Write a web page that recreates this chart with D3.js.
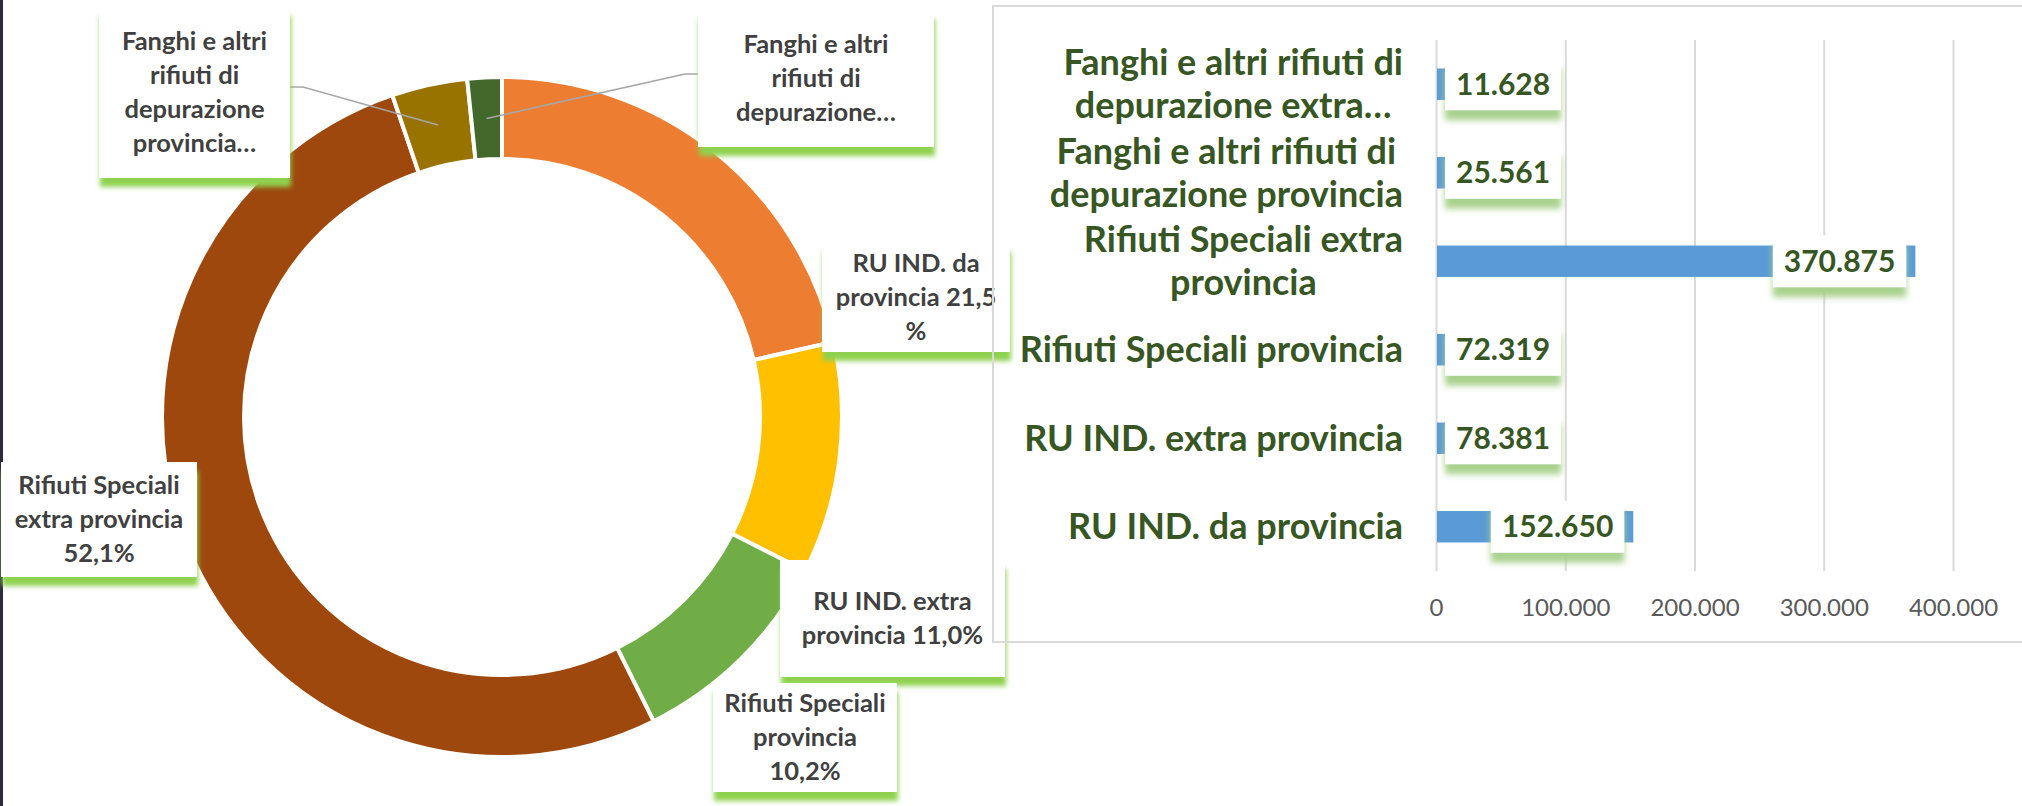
<!DOCTYPE html>
<html>
<head>
<meta charset="utf-8">
<script src="https://cdn.jsdelivr.net/npm/d3@7"></script>
<style>
  body { margin: 0; background: #fff; overflow: hidden; }
  text { font-family: Lato, "Open Sans", sans-serif; font-weight: 700; }
</style>
</head>
<body>
<div id="chart"></div>
<script>
// Data (donut order, clockwise from 12 o'clock)
const categories = [
  "RU IND. da provincia",
  "RU IND. extra provincia",
  "Rifiuti Speciali provincia",
  "Rifiuti Speciali extra provincia",
  "Fanghi e altri rifiuti di depurazione provincia",
  "Fanghi e altri rifiuti di depurazione extra provincia"
];
const values = [152650, 78381, 72319, 370875, 25561, 11628];
const sliceColors = ["#ED7D31", "#FFC000", "#70AD47", "#9E480E", "#997300", "#43682B"];

// Donut label text ({p} = percent with sign, {n} = percent number only)
const donutLabelLines = [
  ["RU IND. da", "provincia {n}", "%"],
  ["RU IND. extra", "provincia {p}"],
  ["Rifiuti Speciali", "provincia", "{p}"],
  ["Rifiuti Speciali", "extra provincia", "{p}"],
  ["Fanghi e altri", "rifiuti di", "depurazione", "provincia…"],
  ["Fanghi e altri", "rifiuti di", "depurazione…"]
];

// Bar chart category labels, as wrapped on the axis
const barLabelLines = [
  ["RU IND. da provincia"],
  ["RU IND. extra provincia"],
  ["Rifiuti Speciali provincia"],
  ["Rifiuti Speciali extra", "provincia"],
  ["Fanghi e altri rifiuti di", "depurazione provincia"],
  ["Fanghi e altri rifiuti di", "depurazione extra…"]
];
const xTicks = [0, 100000, 200000, 300000, 400000];

// Layout
const width = 2022, height = 806;
const donut = {cx: 502, cy: 417, outer: 340, inner: 258};
const donutBoxes = [
  {x: 822, y: 243, w: 188, h: 109},
  {x: 780, y: 560, w: 225, h: 117},
  {x: 713, y: 683, w: 184, h: 109},
  {x: 1, y: 462, w: 196, h: 115},
  {x: 99, y: 7, w: 191, h: 171, leader: "right", ly: 87},
  {x: 698, y: 10, w: 236, h: 137, leader: "left", ly: 74}
];
const panel = {x: 993, y: 6, w: 1060, h: 636};
const plot = {left: 1436, right: 1953, top: 40, bottom: 571, labelRight: 1403};

const itFormat = d3.formatLocale({decimal: ",", thousands: ".", grouping: [3], currency: ["", "€"]});
const numFmt = itFormat.format(",d");
const total = d3.sum(values);
const pctNum = v => d3.format(".1f")(v / total * 100).replace(".", ",");

const svg = d3.select("#chart")
  .append("svg")
    .attr("width", width)
    .attr("height", height);

// Green "shadow" under the label boxes
const defs = svg.append("defs");
defs.append("filter")
    .attr("id", "greenShadow")
    .attr("x", "-10%").attr("y", "-10%").attr("width", "125%").attr("height", "140%")
  .append("feDropShadow")
    .attr("dx", 1).attr("dy", 9).attr("stdDeviation", 2.5)
    .attr("flood-color", "#8fd14f").attr("flood-opacity", 1);
defs.append("filter")
    .attr("id", "lightShadow")
    .attr("x", "-10%").attr("y", "-10%").attr("width", "125%").attr("height", "150%")
  .append("feDropShadow")
    .attr("dx", 0).attr("dy", 10).attr("stdDeviation", 3)
    .attr("flood-color", "#a9d18e").attr("flood-opacity", 1);

svg.append("rect").attr("width", width).attr("height", height).attr("fill", "#fff");
svg.append("rect").attr("width", 3).attr("height", height).attr("fill", "#2e2a3e");

// Bar chart panel background
svg.append("rect")
  .attr("x", panel.x).attr("y", panel.y)
  .attr("width", panel.w).attr("height", panel.h)
  .attr("fill", "#fff");

// ---------- Donut ----------
const pie = d3.pie().sort(null).value(d => d).startAngle(0).endAngle(2 * Math.PI);
const arcs = pie(values);
const arc = d3.arc().innerRadius(donut.inner).outerRadius(donut.outer);
const midArc = d3.arc().innerRadius((donut.inner + donut.outer) / 2).outerRadius((donut.inner + donut.outer) / 2);

const gDonut = svg.append("g")
  .attr("transform", "translate(" + donut.cx + "," + donut.cy + ")");
gDonut.selectAll("path.slice")
  .data(arcs)
  .enter()
  .append("path")
    .attr("class", "slice")
    .attr("d", arc)
    .attr("fill", (d, i) => sliceColors[i])
    .attr("stroke", "#fff")
    .attr("stroke-width", 4);

// Leader lines
arcs.forEach((d, i) => {
  const box = donutBoxes[i];
  if (!box.leader) return;
  const c = midArc.centroid(d);
  const ex = box.leader === "right" ? box.x + box.w : box.x;
  const elbow = box.leader === "right" ? ex + 13 : ex - 13;
  svg.append("polyline")
    .attr("points", [[ex, box.ly], [elbow, box.ly], [donut.cx + c[0], donut.cy + c[1]]].map(p => p.join(",")).join(" "))
    .attr("fill", "none")
    .attr("stroke", "#a6a6a6")
    .attr("stroke-width", 1.5);
});

// Donut labels
const donutFont = 25.5, donutLh = 34;
arcs.forEach((d, i) => {
  const box = donutBoxes[i];
  const g = svg.append("g");
  g.append("rect")
    .attr("x", box.x).attr("y", box.y)
    .attr("width", box.w).attr("height", box.h)
    .attr("fill", "#fff")
    .attr("filter", "url(#greenShadow)");
  const lines = donutLabelLines[i].map(s => s.replace("{p}", pctNum(d.value) + "%").replace("{n}", pctNum(d.value)));
  const cy = box.y + box.h / 2;
  lines.forEach((s, j) => {
    g.append("text")
      .attr("x", box.x + box.w / 2)
      .attr("y", cy + (j - (lines.length - 1) / 2) * donutLh)
      .attr("dy", "0.35em")
      .attr("text-anchor", "middle")
      .style("font-size", donutFont + "px")
      .style("fill", "#404040")
      .text(s);
  });
});

// Panel border on top
svg.append("rect")
  .attr("x", panel.x).attr("y", panel.y)
  .attr("width", panel.w).attr("height", panel.h)
  .attr("fill", "none")
  .attr("stroke", "#d9d9d9")
  .attr("stroke-width", 2);

// ---------- Bar chart ----------
const barOrder = d3.range(categories.length).reverse();
const x = d3.scaleLinear()
  .domain([0, 400000])
  .range([plot.left, plot.right]);
const y = d3.scaleBand()
  .domain(barOrder)
  .range([plot.top, plot.bottom])
  .paddingInner(0.645)
  .paddingOuter(0.3225);

// Gridlines + tick labels
const xAxis = svg.append("g")
  .attr("transform", "translate(0," + plot.bottom + ")")
  .call(d3.axisBottom(x)
    .tickValues(xTicks)
    .tickFormat(numFmt)
    .tickSize(-(plot.bottom - plot.top))
    .tickPadding(28));
xAxis.select(".domain").remove();
xAxis.selectAll(".tick line")
  .attr("stroke", "#d9d9d9")
  .attr("stroke-width", 2);
xAxis.selectAll(".tick text")
  .style("font-family", "Lato, 'Open Sans', sans-serif")
  .style("font-weight", 400)
  .style("font-size", "24px")
  .style("fill", "#595959");

// Bars
svg.selectAll("rect.bar")
  .data(barOrder)
  .enter()
  .append("rect")
    .attr("class", "bar")
    .attr("x", x(0) + 1)
    .attr("y", i => y(i))
    .attr("width", i => x(values[i]) - x(0) - 1)
    .attr("height", y.bandwidth())
    .attr("fill", "#5B9BD5");

// Category labels (lines centred on each other, block right-aligned)
const catFont = 36, catLh = 43;
barOrder.forEach(i => {
  const lines = barLabelLines[i];
  const cy = y(i) + y.bandwidth() / 2;
  const g = svg.append("g");
  const texts = lines.map((s, j) => g.append("text")
    .attr("y", cy + (j - (lines.length - 1) / 2) * catLh)
    .attr("dy", "0.35em")
    .attr("text-anchor", "middle")
    .style("font-size", catFont + "px")
    .style("fill", "#375623")
    .text(s));
  const maxW = d3.max(texts, t => t.node().getComputedTextLength());
  texts.forEach(t => t.attr("x", plot.labelRight - maxW / 2));
});

// Value labels
const valFont = 30, boxH = 52, padX = 11;
barOrder.forEach(i => {
  const cy = y(i) + y.bandwidth() / 2;
  const g = svg.append("g");
  const rect = g.append("rect");
  const t = g.append("text")
    .attr("y", cy)
    .attr("dy", "0.35em")
    .attr("text-anchor", "middle")
    .style("font-size", valFont + "px")
    .style("fill", "#375623")
    .text(numFmt(values[i]));
  const w = t.node().getComputedTextLength() + 2 * padX;
  const right = Math.max(x(values[i]) - 9, x(0) + 9 + w);
  rect.attr("x", right - w).attr("y", cy - boxH / 2)
    .attr("width", w).attr("height", boxH)
    .attr("fill", "#fff")
    .attr("filter", "url(#lightShadow)");
  t.attr("x", right - w / 2);
});
</script>
</body>
</html>
